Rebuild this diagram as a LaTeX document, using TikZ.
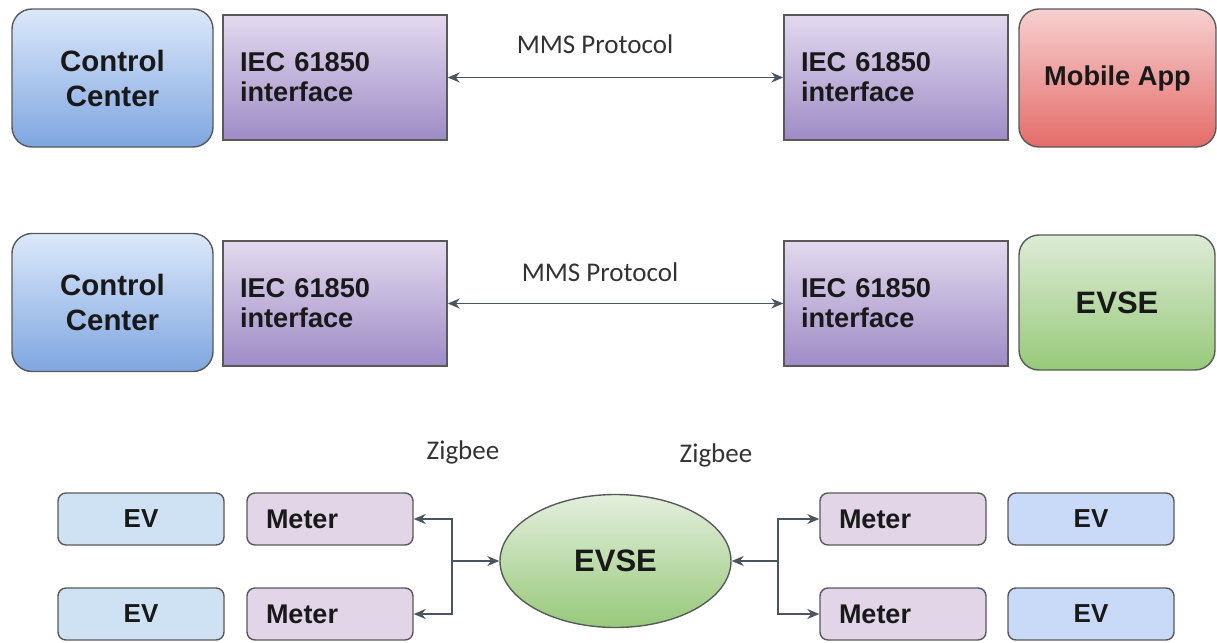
\documentclass[tikz,border=0pt]{standalone}
\usepackage{fontspec}
\setmainfont{Liberation Sans}
\newfontfamily\calibfont{Carlito}
\usetikzlibrary{arrows.meta,shapes.geometric}

\definecolor{ccTop}{HTML}{DCE8FA}
\definecolor{ccBot}{HTML}{7EA6E0}
\definecolor{ifTop}{HTML}{E3D9EE}
\definecolor{ifBot}{HTML}{9D8CC6}
\definecolor{apTop}{HTML}{F6D0CF}
\definecolor{apBot}{HTML}{E46C69}
\definecolor{gnTop}{HTML}{DDEBD6}
\definecolor{gnBot}{HTML}{97C97A}
\definecolor{evFill}{HTML}{CFE2F3}
\definecolor{evFillR}{HTML}{C9DAF8}
\definecolor{mtFill}{HTML}{E1D5E7}
\definecolor{lineGray}{HTML}{4A5561}

\begin{document}
\begin{tikzpicture}[x=0.5pt, y=-0.5pt,
        box/.style={draw=black!65, line width=0.7pt, text=black!90, inner sep=0pt},
        ctrl/.style={box, rounded corners=10pt, minimum width=100.5pt, minimum height=69pt,
            top color=ccTop, bottom color=ccBot, align=center,
            font=\bfseries\fontsize{14.7}{17.5}\selectfont},
        iface/.style={box, minimum height=62.5pt, text width=95pt, inner xsep=8.5pt, align=left,
            top color=ifTop, bottom color=ifBot, font=\bfseries\fontsize{13.6}{15}\selectfont},
        app/.style={box, rounded corners=10pt, minimum width=98.5pt, minimum height=69pt,
            top color=apTop, bottom color=apBot, font=\bfseries\fontsize{13.6}{15}\selectfont},
        station/.style={box, rounded corners=10pt, minimum width=98pt, minimum height=67.5pt,
            top color=gnTop, bottom color=gnBot, font=\bfseries\fontsize{15.5}{18}\selectfont},
        evbox/.style={box, rounded corners=4pt, minimum width=83pt, minimum height=26pt,
            fill=evFill, font=\bfseries\fontsize{13}{15}\selectfont},
        meter/.style={box, rounded corners=4pt, minimum height=26pt, text width=64pt,
            inner xsep=9.5pt, align=left, fill=mtFill, font=\bfseries\fontsize{13.5}{15}\selectfont},
        hub/.style={box, ellipse, minimum width=115.5pt, minimum height=66.5pt,
            top color=gnTop!80!white, bottom color=gnBot, font=\bfseries\fontsize{15.5}{18}\selectfont},
        arr/.style={draw=lineGray, line width=0.8pt, -{Stealth[length=6pt, width=5pt]}},
        biarr/.style={draw=lineGray, line width=0.8pt, {Stealth[length=6pt, width=5pt]}-{Stealth[length=6pt, width=5pt]}},
        lbl/.style={font=\calibfont\fontsize{13.5}{16}\selectfont, text=black!80}
    ]
    \useasboundingbox (0,0) rectangle (1217,643);

    % ---- TOP ROW: control center to mobile app ----
    \node[ctrl] (cc1) at (112.5,78) {Control\\Center};
    \node[iface] (ifL1) at (335,77.5) {IEC 61850\\interface};
    \node[iface] (ifR1) at (896,77.5) {IEC 61850\\interface};
    \node[app] (app) at (1117.5,78) {Mobile App};
    \node[lbl] (mms1) at (595,44) {MMS Protocol};
    \draw[biarr] (ifL1.east) -- (ifR1.west);

    % ---- MIDDLE ROW: control center to EVSE ----
    \node[ctrl] (cc2) at (112.5,302.5) {Control\\Center};
    \node[iface] (ifL2) at (335,303.5) {IEC 61850\\interface};
    \node[iface] (ifR2) at (896,303.5) {IEC 61850\\interface};
    \node[station] (evse) at (1117,302.5) {EVSE};
    \node[lbl] (mms2) at (600,272) {MMS Protocol};
    \draw[biarr] (ifL2.east) -- (ifR2.west);

    % ---- BOTTOM ROW: EVSE to meters and EVs ----
    \node[evbox] (ev1) at (141,519) {EV};
    \node[meter] (m1) at (330,519) {Meter};
    \node[evbox] (ev2) at (141,614) {EV};
    \node[meter] (m2) at (330,614) {Meter};
    \node[hub] (hub) at (615.5,561) {EVSE};
    \node[meter] (m3) at (903,519) {Meter};
    \node[evbox, fill=evFillR] (ev3) at (1091,519) {EV};
    \node[meter] (m4) at (903,614) {Meter};
    \node[evbox, fill=evFillR] (ev4) at (1091,614) {EV};
    \node[lbl] (zb1) at (463,452) {Zigbee};
    \node[lbl] (zb2) at (716,455) {Zigbee};

    \coordinate (jl) at (452,561);
    \coordinate (jr) at (778,561);
    \draw[arr] (jl) -- (hub);
    \draw[arr] (jl) |- (m1.east);
    \draw[arr] (jl) |- (m2.east);
    \draw[arr] (jr) -- (hub);
    \draw[arr] (jr) |- (m3.west);
    \draw[arr] (jr) |- (m4.west);

\end{tikzpicture}
\end{document}
